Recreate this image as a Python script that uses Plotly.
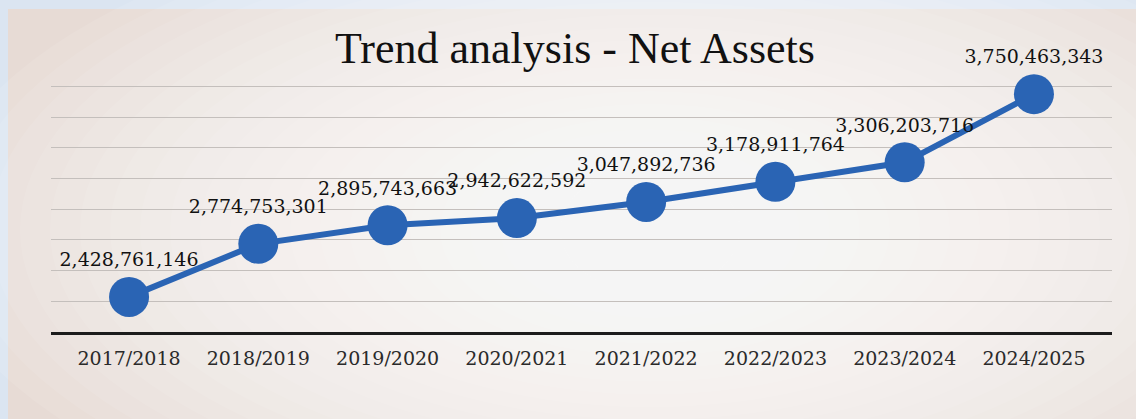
import plotly.graph_objects as go

years = ["2017/2018", "2018/2019", "2019/2020", "2020/2021",
         "2021/2022", "2022/2023", "2023/2024", "2024/2025"]
net_assets = [2428761146, 2774753301, 2895743663, 2942622592,
              3047892736, 3178911764, 3306203716, 3750463343]
labels = [f"{v:,}" for v in net_assets]

W, H = 1136, 419
L, R, T, B = 51, 24, 85, 87
pw, ph = W - L - R, H - T - B

def px_x(x):
    return (x - L) / pw

def px_y(y):
    return (H - B - y) / ph

fig = go.Figure()
fig.add_trace(go.Scatter(
    x=years, y=net_assets, mode="lines+markers+text",
    line=dict(color="#2a64b4", width=6),
    marker=dict(size=40, color="#2a64b4", line=dict(width=0)),
    text=labels, textposition="top center",
    textfont=dict(family="DejaVu Serif", size=19, color="#111111"),
    cliponaxis=False, hoverinfo="skip", showlegend=False,
))

shapes = [dict(type="rect", xref="paper", yref="paper", layer="below",
               x0=px_x(8), x1=px_x(W), y0=px_y(H), y1=px_y(9),
               fillcolor="#e7dbd5", line=dict(width=0))]
# soft lighter centre to mimic the scanned gradient
n = 22
for i in range(n):
    f = 1 - i / n
    rx, ry = 60 + 660 * f, 50 + 280 * f
    cx, cy = 650, 230
    shapes.append(dict(type="circle", xref="paper", yref="paper", layer="below",
                       x0=px_x(cx - rx), x1=px_x(cx + rx),
                       y0=px_y(cy + ry), y1=px_y(cy - ry),
                       fillcolor="rgba(255,255,253,0.085)", line=dict(width=0)))

fig.update_layout(
    width=W, height=H,
    margin=dict(l=L, r=R, t=T, b=B),
    paper_bgcolor="#dbe5f1", plot_bgcolor="rgba(0,0,0,0)",
    shapes=shapes,
    title=dict(text="Trend analysis - Net Assets",
               font=dict(family="Liberation Serif", size=44, color="#111111"),
               x=575 / W, xanchor="center", xref="container",
               y=1 - 48 / H, yanchor="middle", yref="container"),
    xaxis=dict(type="category", showgrid=False, showline=True,
               linecolor="#1c1c1c", linewidth=3, ticks="",
               tickfont=dict(family="DejaVu Serif", size=19, color="#2a2a2a"),
               ticklabelstandoff=7),
    yaxis=dict(range=[2.2e9, 3.81e9], dtick=2e8, tick0=2.2e9,
               showticklabels=False,
               showgrid=True, gridcolor="#c4bfbc", gridwidth=1,
               zeroline=False, showline=False),
)

fig.write_html("out.html", config={"displayModeBar": False},
               post_script="document.body.style.margin='0';document.body.style.padding='0';")
